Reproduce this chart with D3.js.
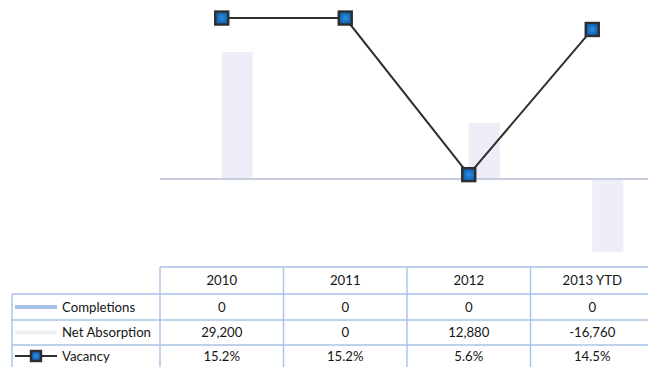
<!DOCTYPE html>
<html>
<head>
<meta charset="utf-8">
<script src="https://cdn.jsdelivr.net/npm/d3@7"></script>
<style>
  html, body { margin: 0; padding: 0; background: #fff; }
  svg { display: block; }
  text { font-family: Lato, "Open Sans", sans-serif; fill: #161616; }
</style>
</head>
<body>
<svg id="chart" width="648" height="367"></svg>
<script>
// Years shown along the category axis
const years = ["2010", "2011", "2012", "2013 YTD"];
// Square feet completed per year
const completions = [0, 0, 0, 0];
// Net absorption (sq ft), may be negative
const netAbsorption = [29200, 0, 12880, -16760];
// Vacancy rate in percent
const vacancy = [15.2, 15.2, 5.6, 14.5];
// Row labels of the data table
const seriesNames = ["Completions", "Net Absorption", "Vacancy"];

const svg = d3.select("#chart");

const x = d3.scaleBand().domain(years).range([160, 654]);
const bw = x.bandwidth();
const xInner = d3.scaleBand().domain(["Completions", "Net Absorption"]).range([bw / 2 - 31, bw / 2 + 31]);

const yBar = d3.scaleLinear().domain([-20000, 40000]).range([266, 5]);
const yVac = d3.scaleLinear().domain([0, 16]).range([266, 5]);

// Bars for the two volume series
const barColors = { "Completions": "#a7c0e6", "Net Absorption": "#eeeef8" };
const barData = [];
years.forEach((yr, i) => {
  barData.push({ yr, key: "Completions", v: completions[i] });
  barData.push({ yr, key: "Net Absorption", v: netAbsorption[i] });
});
svg.append("g").selectAll("rect").data(barData).join("rect")
  .attr("x", d => x(d.yr) + xInner(d.key))
  .attr("width", xInner.bandwidth())
  .attr("y", d => Math.min(yBar(d.v), yBar(0)))
  .attr("height", d => Math.abs(yBar(d.v) - yBar(0)))
  .attr("fill", d => barColors[d.key]);

// Zero baseline
svg.append("line")
  .attr("x1", 160).attr("x2", 648)
  .attr("y1", yBar(0)).attr("y2", yBar(0))
  .attr("stroke", "#c9cde0").attr("stroke-width", 1.8);

// Vacancy line with square markers
const cx = (d, i) => x(years[i]) + bw / 2;
svg.append("path")
  .datum(vacancy)
  .attr("fill", "none")
  .attr("stroke", "#303030")
  .attr("stroke-width", 2)
  .attr("d", d3.line().x((d, i) => cx(d, i)).y(d => yVac(d)));

const defs = svg.append("defs");
const grad = defs.append("radialGradient").attr("id", "mk");
grad.append("stop").attr("offset", "0%").attr("stop-color", "#2f8ee0");
grad.append("stop").attr("offset", "100%").attr("stop-color", "#0f5fb0");

function marker(g, px, py, s) {
  g.append("rect")
    .attr("x", px - s / 2).attr("y", py - s / 2)
    .attr("width", s).attr("height", s)
    .attr("fill", "url(#mk)")
    .attr("stroke", "#2e2e2e").attr("stroke-width", 2.4);
}
const mg = svg.append("g");
vacancy.forEach((v, i) => marker(mg, cx(v, i), yVac(v), 13));

// Data table
const rowY = [267, 294, 320, 345, 372];
const tableLeft = 12;
const lineColor = "#a9c2ea";
const grid = svg.append("g").attr("stroke", lineColor).attr("stroke-width", 1.4);
grid.append("line").attr("x1", 160).attr("x2", 648).attr("y1", rowY[0]).attr("y2", rowY[0]);
rowY.slice(1, 4).forEach(yy => {
  grid.append("line").attr("x1", tableLeft).attr("x2", 648).attr("y1", yy).attr("y2", yy);
});
grid.append("line").attr("x1", tableLeft).attr("x2", tableLeft).attr("y1", rowY[1]).attr("y2", 367);
years.forEach(yr => {
  grid.append("line").attr("x1", x(yr)).attr("x2", x(yr)).attr("y1", rowY[0]).attr("y2", 367);
});

const fmtNum = d3.format(",");
const rows = [
  completions.map(v => fmtNum(v)),
  netAbsorption.map(v => fmtNum(v).replace("−", "-")),
  vacancy.map(v => v.toFixed(1) + "%")
];

const fs = 13.2;
// Header
svg.append("g").selectAll("text").data(years).join("text")
  .attr("x", d => x(d) + bw / 2)
  .attr("y", (rowY[0] + rowY[1]) / 2 + 4.5)
  .attr("text-anchor", "middle")
  .attr("font-size", fs)
  .text(d => d);

rows.forEach((vals, r) => {
  const mid = (rowY[r + 1] + Math.min(rowY[r + 2], 367)) / 2 + 4.5;
  svg.append("g").selectAll("text").data(vals).join("text")
    .attr("x", (d, i) => x(years[i]) + bw / 2)
    .attr("y", mid)
    .attr("text-anchor", "middle")
    .attr("font-size", fs)
    .text(d => d);
  svg.append("text")
    .attr("x", 62).attr("y", mid)
    .attr("font-size", fs)
    .text(seriesNames[r]);
});

// Legend keys
const mid0 = (rowY[1] + rowY[2]) / 2;
const mid1 = (rowY[2] + rowY[3]) / 2;
const mid2 = (rowY[3] + 367) / 2;
svg.append("rect").attr("x", 15).attr("y", mid0 - 2).attr("width", 42).attr("height", 4)
  .attr("fill", barColors["Completions"]);
svg.append("rect").attr("x", 15).attr("y", mid1 - 2).attr("width", 42).attr("height", 4)
  .attr("fill", "#f1f1f3");
svg.append("line").attr("x1", 15).attr("x2", 57).attr("y1", mid2).attr("y2", mid2)
  .attr("stroke", "#303030").attr("stroke-width", 2);
marker(svg, 36, mid2, 10);
</script>
</body>
</html>
